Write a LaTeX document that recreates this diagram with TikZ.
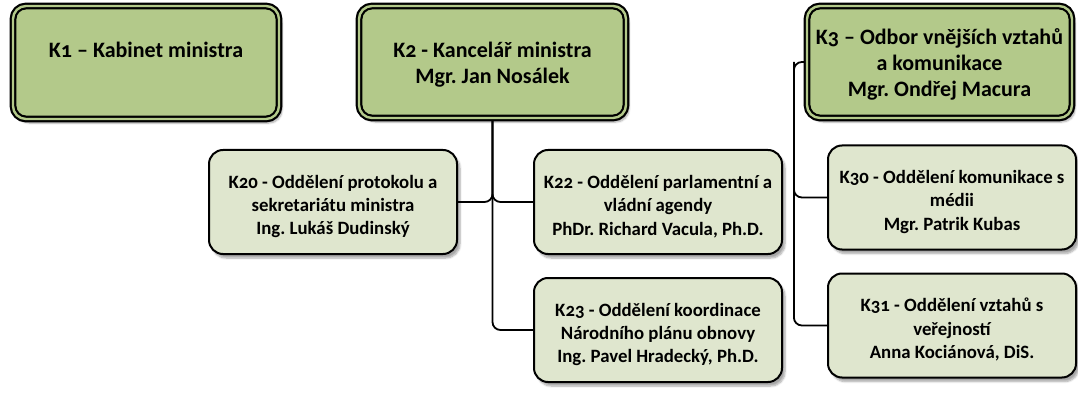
\documentclass[tikz,border=0pt]{standalone}
\usepackage{fontspec}
\setmainfont{Carlito}[Numbers=OldStyle]
\usetikzlibrary{shadows.blur,backgrounds}
\definecolor{topgreen}{HTML}{B3C98A}
\definecolor{subgreen}{HTML}{DFE6CE}
\frenchspacing
\newcommand{\substrut}{\rule{0pt}{22pt}}
\newcommand{\topstrut}{\rule{0pt}{21.5pt}}
\begin{document}
\begin{tikzpicture}[x=1pt,y=-1pt,
  shad/.style={blur shadow={shadow xshift=3pt,shadow yshift=-4pt,shadow blur steps=6,shadow opacity=35}},
  topbox/.style={shad,draw=black,line width=2.2pt,double=topgreen,double distance=2.4pt,
    fill=topgreen,rounded corners=13pt,align=center,inner sep=0pt,
    font=\fontsize{22}{26}\selectfont\bfseries},
  subbox/.style={shad,draw=black,line width=2pt,fill=subgreen,rounded corners=14pt,
    minimum width=248pt,minimum height=104pt,align=center,inner sep=0pt,
    font=\fontsize{18.8}{23.3}\selectfont\bfseries},
  conn/.style={draw=black,line width=1.8pt,rounded corners=8pt}]
\useasboundingbox (0,0) rectangle (1078,398);
% top boxes
\node[topbox,minimum width=266pt,minimum height=113pt] (k1) at (146,62.5)
  {K1 – Kabinet ministra\\\mbox{}};
\node[topbox,minimum width=267pt,minimum height=112pt] (k2) at (492.5,62)
  {\topstrut K2 - Kancelář ministra\\Mgr. Jan Nosálek};
\node[topbox,minimum width=265pt,minimum height=112pt] (k3) at (939.5,62)
  {\topstrut K3 – Odbor vnějších vztahů\\a komunikace\\Mgr. Ondřej Macura};
% sub boxes
\node[subbox] (k20) at (333,202)
  {\substrut K20 - Oddělení protokolu a\\sekretariátu ministra\\Ing. Lukáš Dudinský};
\node[subbox] (k22) at (658,202)
  {\substrut K22 - Oddělení parlamentní a\\vládní agendy\\PhDr. Richard Vacula, Ph.D.};
\node[subbox] (k23) at (658,330)
  {\substrut K23 - Oddělení koordinace\\Národního plánu obnovy\\Ing. Pavel Hradecký, Ph.D.};
\node[subbox] (k30) at (952,197.5)
  {\substrut K30 - Oddělení komunikace s\\médii\\Mgr. Patrik Kubas};
\node[subbox] (k31) at (952,325.5)
  {\substrut K31 - Oddělení vztahů s\\veřejností\\Anna Kociánová, DiS.};
% connectors
\begin{scope}[on background layer]
\draw[conn] (k2.south) |- (k20.east);
\draw[conn] (k2.south) |- (k22.west);
\draw[conn] (k2.south) |- (k23.west);
\draw[conn] (k3.west) -- ++(-12,0) coordinate (k3bus) |- (k30.west);
\draw[conn] (k3bus) |- (k31.west);
\end{scope}
\end{tikzpicture}
\end{document}
